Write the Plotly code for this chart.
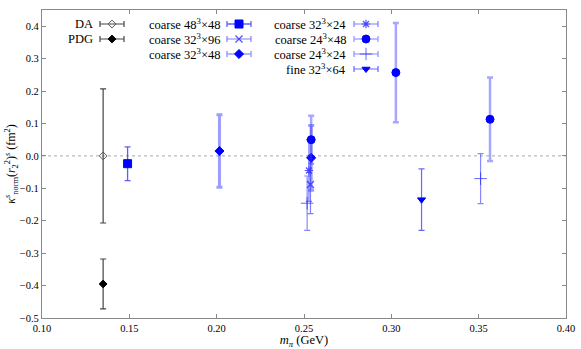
import plotly.graph_objects as go

# ---- data ----
da_x, da_y, da_err = [0.135], [0.0], [0.207]
pdg_x, pdg_y, pdg_err = [0.135], [-0.395], [0.077]
c48x48_x, c48x48_y, c48x48_err = [0.149], [-0.024], [0.052]
c32x96_x, c32x96_y, c32x96_err = [0.2537], [-0.088], [0.090]
c32x48_x, c32x48_y, c32x48_err = [0.2016, 0.2541], [0.015, -0.006], [0.112, 0.100]
c32x24_x, c32x24_y, c32x24_err = [0.2528], [-0.045], [0.095]
c24x48_x, c24x48_y, c24x48_err = [0.2541, 0.3026, 0.3565], [0.050, 0.257, 0.113], [0.074, 0.153, 0.129]
c24x24_x, c24x24_y, c24x24_err = [0.2518, 0.3511], [-0.146, -0.070], [0.084, 0.077]
fine_x, fine_y, fine_err = [0.3173], [-0.135], [0.095]

x_tickvals = [0.10, 0.15, 0.20, 0.25, 0.30, 0.35, 0.40]
x_ticktext = ["0.10", "0.15", "0.20", "0.25", "0.30", "0.35", "0.40"]
y_tickvals = [-0.5, -0.4, -0.3, -0.2, -0.1, 0.0, 0.1, 0.2, 0.3, 0.4]
y_ticktext = ["\u22120.5", "\u22120.4", "\u22120.3", "\u22120.2", "\u22120.1", "0.0", "0.1", "0.2", "0.3", "0.4"]

FONT = "Liberation Serif, Times New Roman, DejaVu Serif, serif"
BLUE = "#0000ff"

series = [
    # name, x, y, err, symbol, size, marker color, marker line width, err color, err thickness, legend column, row
    ("DA", da_x, da_y, da_err, "diamond-open", 6, "#555555", 1, "#444444", 1.2, 0, 0),
    ("PDG", pdg_x, pdg_y, pdg_err, "diamond", 6, "#000000", 1, "#444444", 1.2, 0, 1),
    ("coarse 48<sup>3</sup>×48", c48x48_x, c48x48_y, c48x48_err, "square", 8, BLUE, 1, "rgba(40,40,255,0.75)", 1.3, 1, 0),
    ("coarse 32<sup>3</sup>×96", c32x96_x, c32x96_y, c32x96_err, "x-thin-open", 7, "rgba(40,40,255,0.8)", 1.3, "rgba(40,40,255,0.6)", 1.2, 1, 1),
    ("coarse 32<sup>3</sup>×48", c32x48_x, c32x48_y, c32x48_err, "diamond", 7, BLUE, 1, "rgba(60,60,255,0.5)", 3, 1, 2),
    ("coarse 32<sup>3</sup>×24", c32x24_x, c32x24_y, c32x24_err, "asterisk-open", 7, "rgba(40,40,255,0.8)", 1.2, "rgba(40,40,255,0.6)", 1.2, 2, 0),
    ("coarse 24<sup>3</sup>×48", c24x48_x, c24x48_y, c24x48_err, "circle", 8, BLUE, 1, "rgba(60,60,255,0.45)", 2.5, 2, 1),
    ("coarse 24<sup>3</sup>×24", c24x24_x, c24x24_y, c24x24_err, "cross-thin-open", 9, "rgba(40,40,255,0.7)", 1, "rgba(40,40,255,0.55)", 1.2, 2, 2),
    ("fine 32<sup>3</sup>×64", fine_x, fine_y, fine_err, "triangle-down", 7, BLUE, 1, "rgba(40,40,255,0.7)", 1.2, 2, 3),
]

fig = go.Figure()

for name, x, y, err, sym, size, mcol, mlw, ecol, ethick, col, row in series:
    fig.add_trace(go.Scatter(
        x=x, y=y, mode="markers", name=name, showlegend=False,
        marker=dict(symbol=sym, size=size, color=mcol, line=dict(color=mcol, width=mlw)),
        error_y=dict(type="data", array=err, symmetric=True, color=ecol, thickness=ethick, width=3),
    ))

# ---- legend built on an overlay axis in pixel units ----
col_text_right = [95, 222, 348]
col_marker_x = [112, 239, 366]
row_y = [24, 39, 54, 69]
annotations = []
for name, x, y, err, sym, size, mcol, mlw, ecol, ethick, col, row in series:
    fig.add_trace(go.Scatter(
        x=[col_marker_x[col]], y=[row_y[row]], xaxis="x2", yaxis="y2", mode="markers",
        showlegend=False, hoverinfo="skip",
        marker=dict(symbol=sym, size=size, color=mcol, line=dict(color=mcol, width=mlw)),
        error_x=dict(type="data", array=[12], symmetric=True, color=ecol,
                     thickness=min(ethick, 1.5), width=3),
    ))
    annotations.append(dict(
        x=col_text_right[col], y=row_y[row], xref="x2", yref="y2", text=name,
        showarrow=False, xanchor="right", yanchor="middle",
        font=dict(family=FONT, size=12.5, color="black"),
    ))

fig.update_layout(
    width=581, height=349,
    margin=dict(l=42, r=15, t=10, b=31),
    paper_bgcolor="white", plot_bgcolor="white",
    font=dict(family=FONT, size=11, color="black"),
    showlegend=False,
    annotations=annotations,
    xaxis=dict(
        range=[0.10, 0.40], tickmode="array", tickvals=x_tickvals, ticktext=x_ticktext,
        showgrid=False, zeroline=False, showline=True, linecolor="#888888", linewidth=1.2,
        mirror="allticks", ticks="inside", ticklen=4, tickcolor="#888888",
        tickfont=dict(family=FONT, size=10.5),
        title=dict(text="<i>m</i><sub><i>π</i></sub> (GeV)", font=dict(family=FONT, size=12.5), standoff=1),
        automargin=False,
    ),
    yaxis=dict(
        range=[-0.5, 0.45], tickmode="array", tickvals=y_tickvals, ticktext=y_ticktext,
        showgrid=False, zeroline=False, showline=True, linecolor="#888888", linewidth=1.2,
        mirror="allticks", ticks="inside", ticklen=4, tickcolor="#888888",
        tickfont=dict(family=FONT, size=10.5),
        title=dict(text="<i>κ</i><sup><i>s</i></sup><sub>norm</sub>(<i>r</i><sub>2</sub><sup>2</sup>)<sup><i>s</i></sup> (fm<sup>2</sup>)",
                   font=dict(family=FONT, size=12), standoff=0),
        automargin=False,
    ),
    xaxis2=dict(overlaying="x", range=[42, 566], visible=False, fixedrange=True),
    yaxis2=dict(overlaying="y", range=[318, 10], visible=False, fixedrange=True),
    shapes=[dict(type="line", xref="paper", x0=0, x1=1, yref="y", y0=0, y1=0,
                 line=dict(color="#aaaaaa", width=1, dash="dot"), layer="below")],
)

fig.write_html("out.html", config={"displayModeBar": False},
               post_script="document.body.style.margin='0';document.body.style.overflow='hidden';")
